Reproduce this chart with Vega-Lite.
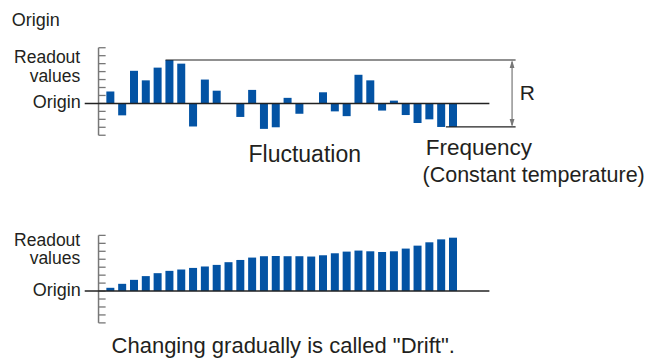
{
  "$schema": "https://vega.github.io/schema/vega-lite/v6.json",
  "width": 649,
  "height": 358,
  "autosize": {"type": "fit", "contains": "padding"},
  "padding": 0,
  "background": "white",
  "config": {"view": {"stroke": null}, "text": {"font": "Liberation Sans", "color": "#231f20"}},
  "datasets": {
    "fluct": [
      {"i": 1, "v": 1.5}, {"i": 2, "v": -1.5}, {"i": 3, "v": 4.1}, {"i": 4, "v": 2.9}, {"i": 5, "v": 4.5},
      {"i": 6, "v": 5.46}, {"i": 7, "v": 5.0}, {"i": 8, "v": -2.9}, {"i": 9, "v": 3.0}, {"i": 10, "v": 1.6},
      {"i": 11, "v": 0}, {"i": 12, "v": -1.7}, {"i": 13, "v": 1.7}, {"i": 14, "v": -3.2}, {"i": 15, "v": -3.0},
      {"i": 16, "v": 0.7}, {"i": 17, "v": -1.3}, {"i": 18, "v": 0}, {"i": 19, "v": 1.4}, {"i": 20, "v": -1.0},
      {"i": 21, "v": -1.6}, {"i": 22, "v": 3.6}, {"i": 23, "v": 2.9}, {"i": 24, "v": -0.9}, {"i": 25, "v": 0.35},
      {"i": 26, "v": -1.46}, {"i": 27, "v": -2.46}, {"i": 28, "v": -2.0}, {"i": 29, "v": -2.96}, {"i": 30, "v": -2.96}
    ],
    "drift": [
      {"i": 1, "v": 0.41}, {"i": 2, "v": 0.91}, {"i": 3, "v": 1.41}, {"i": 4, "v": 1.88}, {"i": 5, "v": 2.25},
      {"i": 6, "v": 2.54}, {"i": 7, "v": 2.71}, {"i": 8, "v": 2.91}, {"i": 9, "v": 3.09}, {"i": 10, "v": 3.29},
      {"i": 11, "v": 3.63}, {"i": 12, "v": 3.91}, {"i": 13, "v": 4.21}, {"i": 14, "v": 4.38}, {"i": 15, "v": 4.41},
      {"i": 16, "v": 4.38}, {"i": 17, "v": 4.38}, {"i": 18, "v": 4.34}, {"i": 19, "v": 4.5}, {"i": 20, "v": 4.75},
      {"i": 21, "v": 4.96}, {"i": 22, "v": 5.09}, {"i": 23, "v": 5.0}, {"i": 24, "v": 4.91}, {"i": 25, "v": 5.0},
      {"i": 26, "v": 5.34}, {"i": 27, "v": 5.71}, {"i": 28, "v": 6.13}, {"i": 29, "v": 6.5}, {"i": 30, "v": 6.71}
    ],
    "ticks": [
      {"t": -4}, {"t": -3}, {"t": -2}, {"t": -1}, {"t": 0}, {"t": 1},
      {"t": 2}, {"t": 3}, {"t": 4}, {"t": 5}, {"t": 6}, {"t": 7}
    ],
    "one": [{"k": 1}]
  },
  "resolve": {"scale": {"y": "independent"}},
  "layer": [
    {
      "layer": [
        {
          "data": {"name": "ticks"},
          "mark": {"type": "rule", "color": "#777777", "strokeWidth": 1.3},
          "encoding": {
            "x": {"datum": 0, "type": "quantitative", "scale": {"domain": [-7.9167, 46.1667], "nice": false, "zero": false}, "axis": null},
            "x2": {"datum": 0.6},
            "y": {"field": "t", "type": "quantitative", "scale": {"domain": [-31.75, 13], "nice": false, "zero": false}, "axis": null}
          }
        },
        {
          "data": {"name": "one"},
          "mark": {"type": "rule", "color": "#777777", "strokeWidth": 1.5},
          "encoding": {
            "x": {"datum": 0, "type": "quantitative", "scale": {"domain": [-7.9167, 46.1667], "nice": false, "zero": false}, "axis": null},
            "y": {"datum": 7, "type": "quantitative", "scale": {"domain": [-31.75, 13], "nice": false, "zero": false}, "axis": null},
            "y2": {"datum": -4}
          }
        },
        {
          "data": {"name": "fluct"},
          "mark": {"type": "bar", "orient": "vertical", "width": 8, "color": "#0353a4"},
          "encoding": {
            "x": {"field": "i", "type": "quantitative", "scale": {"domain": [-7.9167, 46.1667], "nice": false, "zero": false}, "axis": null},
            "y": {"field": "v", "type": "quantitative", "scale": {"domain": [-31.75, 13], "nice": false, "zero": false}, "axis": null},
            "y2": {"datum": 0}
          }
        },
        {
          "data": {"name": "one"},
          "mark": {"type": "rule", "color": "#222222", "strokeWidth": 1.5},
          "encoding": {
            "x": {"datum": -1.17, "type": "quantitative", "scale": {"domain": [-7.9167, 46.1667], "nice": false, "zero": false}, "axis": null},
            "x2": {"datum": 33.08},
            "y": {"datum": 0, "type": "quantitative", "scale": {"domain": [-31.75, 13], "nice": false, "zero": false}, "axis": null}
          }
        },
        {
          "data": {"name": "one"},
          "mark": {"type": "rule", "color": "#222222", "strokeWidth": 1.2},
          "encoding": {
            "x": {"datum": 5.67, "type": "quantitative", "scale": {"domain": [-7.9167, 46.1667], "nice": false, "zero": false}, "axis": null},
            "x2": {"datum": 35.3},
            "y": {"datum": 5.46, "type": "quantitative", "scale": {"domain": [-31.75, 13], "nice": false, "zero": false}, "axis": null}
          }
        },
        {
          "data": {"name": "one"},
          "mark": {"type": "rule", "color": "#222222", "strokeWidth": 1.2},
          "encoding": {
            "x": {"datum": 29.4, "type": "quantitative", "scale": {"domain": [-7.9167, 46.1667], "nice": false, "zero": false}, "axis": null},
            "x2": {"datum": 35.3},
            "y": {"datum": -2.96, "type": "quantitative", "scale": {"domain": [-31.75, 13], "nice": false, "zero": false}, "axis": null}
          }
        },
        {
          "data": {"name": "one"},
          "mark": {"type": "rule", "color": "#777777", "strokeWidth": 1.2},
          "encoding": {
            "x": {"datum": 35.0, "type": "quantitative", "scale": {"domain": [-7.9167, 46.1667], "nice": false, "zero": false}, "axis": null},
            "y": {"datum": 5.2, "type": "quantitative", "scale": {"domain": [-31.75, 13], "nice": false, "zero": false}, "axis": null},
            "y2": {"datum": -2.7}
          }
        },
        {
          "data": {"name": "one"},
          "mark": {"type": "point", "filled": true, "opacity": 1, "color": "#777777", "size": 64, "shape": "M0,-1L0.6,1L-0.6,1Z"},
          "encoding": {
            "x": {"datum": 35.0, "type": "quantitative", "scale": {"domain": [-7.9167, 46.1667], "nice": false, "zero": false}, "axis": null},
            "y": {"datum": 4.96, "type": "quantitative", "scale": {"domain": [-31.75, 13], "nice": false, "zero": false}, "axis": null}
          }
        },
        {
          "data": {"name": "one"},
          "mark": {"type": "point", "filled": true, "opacity": 1, "color": "#777777", "size": 64, "shape": "M0,1L0.6,-1L-0.6,-1Z"},
          "encoding": {
            "x": {"datum": 35.0, "type": "quantitative", "scale": {"domain": [-7.9167, 46.1667], "nice": false, "zero": false}, "axis": null},
            "y": {"datum": -2.46, "type": "quantitative", "scale": {"domain": [-31.75, 13], "nice": false, "zero": false}, "axis": null}
          }
        },
        {
          "data": {"name": "one"},
          "mark": {"type": "text", "text": "Origin", "fontSize": 18, "align": "left", "baseline": "alphabetic"},
          "encoding": {
            "x": {"datum": -7.35, "type": "quantitative", "scale": {"domain": [-7.9167, 46.1667], "nice": false, "zero": false}, "axis": null},
            "y": {"datum": 9.79, "type": "quantitative", "scale": {"domain": [-31.75, 13], "nice": false, "zero": false}, "axis": null}
          }
        },
        {
          "data": {"name": "one"},
          "mark": {"type": "text", "text": "Readout", "fontSize": 17.5, "align": "right", "baseline": "alphabetic"},
          "encoding": {
            "x": {"datum": -1.55, "type": "quantitative", "scale": {"domain": [-7.9167, 46.1667], "nice": false, "zero": false}, "axis": null},
            "y": {"datum": 5.08, "type": "quantitative", "scale": {"domain": [-31.75, 13], "nice": false, "zero": false}, "axis": null}
          }
        },
        {
          "data": {"name": "one"},
          "mark": {"type": "text", "text": "values", "fontSize": 17.5, "align": "right", "baseline": "alphabetic"},
          "encoding": {
            "x": {"datum": -1.55, "type": "quantitative", "scale": {"domain": [-7.9167, 46.1667], "nice": false, "zero": false}, "axis": null},
            "y": {"datum": 2.72, "type": "quantitative", "scale": {"domain": [-31.75, 13], "nice": false, "zero": false}, "axis": null}
          }
        },
        {
          "data": {"name": "one"},
          "mark": {"type": "text", "text": "Origin", "fontSize": 18, "align": "right", "baseline": "alphabetic"},
          "encoding": {
            "x": {"datum": -1.5, "type": "quantitative", "scale": {"domain": [-7.9167, 46.1667], "nice": false, "zero": false}, "axis": null},
            "y": {"datum": -0.56, "type": "quantitative", "scale": {"domain": [-31.75, 13], "nice": false, "zero": false}, "axis": null}
          }
        },
        {
          "data": {"name": "one"},
          "mark": {"type": "text", "text": "Fluctuation", "fontSize": 23, "align": "left", "baseline": "alphabetic"},
          "encoding": {
            "x": {"datum": 12.69, "type": "quantitative", "scale": {"domain": [-7.9167, 46.1667], "nice": false, "zero": false}, "axis": null},
            "y": {"datum": -7.34, "type": "quantitative", "scale": {"domain": [-31.75, 13], "nice": false, "zero": false}, "axis": null}
          }
        },
        {
          "data": {"name": "one"},
          "mark": {"type": "text", "text": "Frequency", "fontSize": 22.5, "align": "left", "baseline": "alphabetic"},
          "encoding": {
            "x": {"datum": 27.69, "type": "quantitative", "scale": {"domain": [-7.9167, 46.1667], "nice": false, "zero": false}, "axis": null},
            "y": {"datum": -6.5, "type": "quantitative", "scale": {"domain": [-31.75, 13], "nice": false, "zero": false}, "axis": null}
          }
        },
        {
          "data": {"name": "one"},
          "mark": {"type": "text", "text": "(Constant temperature)", "fontSize": 21.5, "align": "left", "baseline": "alphabetic"},
          "encoding": {
            "x": {"datum": 27.42, "type": "quantitative", "scale": {"domain": [-7.9167, 46.1667], "nice": false, "zero": false}, "axis": null},
            "y": {"datum": -9.84, "type": "quantitative", "scale": {"domain": [-31.75, 13], "nice": false, "zero": false}, "axis": null}
          }
        },
        {
          "data": {"name": "one"},
          "mark": {"type": "text", "text": "R", "fontSize": 21, "align": "left", "baseline": "alphabetic"},
          "encoding": {
            "x": {"datum": 35.64, "type": "quantitative", "scale": {"domain": [-7.9167, 46.1667], "nice": false, "zero": false}, "axis": null},
            "y": {"datum": 0.375, "type": "quantitative", "scale": {"domain": [-31.75, 13], "nice": false, "zero": false}, "axis": null}
          }
        }
      ]
    },
    {
      "layer": [
        {
          "data": {"name": "ticks"},
          "mark": {"type": "rule", "color": "#777777", "strokeWidth": 1.3},
          "encoding": {
            "x": {"datum": 0, "type": "quantitative", "scale": {"domain": [-7.9167, 46.1667], "nice": false, "zero": false}, "axis": null},
            "x2": {"datum": 0.6},
            "y": {"field": "t", "type": "quantitative", "scale": {"domain": [-8.1625, 36.5875], "nice": false, "zero": false}, "axis": null}
          }
        },
        {
          "data": {"name": "one"},
          "mark": {"type": "rule", "color": "#777777", "strokeWidth": 1.5},
          "encoding": {
            "x": {"datum": 0, "type": "quantitative", "scale": {"domain": [-7.9167, 46.1667], "nice": false, "zero": false}, "axis": null},
            "y": {"datum": 7, "type": "quantitative", "scale": {"domain": [-8.1625, 36.5875], "nice": false, "zero": false}, "axis": null},
            "y2": {"datum": -4}
          }
        },
        {
          "data": {"name": "drift"},
          "mark": {"type": "bar", "orient": "vertical", "width": 8, "color": "#0353a4"},
          "encoding": {
            "x": {"field": "i", "type": "quantitative", "scale": {"domain": [-7.9167, 46.1667], "nice": false, "zero": false}, "axis": null},
            "y": {"field": "v", "type": "quantitative", "scale": {"domain": [-8.1625, 36.5875], "nice": false, "zero": false}, "axis": null},
            "y2": {"datum": 0}
          }
        },
        {
          "data": {"name": "one"},
          "mark": {"type": "rule", "color": "#222222", "strokeWidth": 1.5},
          "encoding": {
            "x": {"datum": -1.17, "type": "quantitative", "scale": {"domain": [-7.9167, 46.1667], "nice": false, "zero": false}, "axis": null},
            "x2": {"datum": 33.08},
            "y": {"datum": 0, "type": "quantitative", "scale": {"domain": [-8.1625, 36.5875], "nice": false, "zero": false}, "axis": null}
          }
        },
        {
          "data": {"name": "one"},
          "mark": {"type": "text", "text": "Readout", "fontSize": 17.5, "align": "right", "baseline": "alphabetic"},
          "encoding": {
            "x": {"datum": -1.55, "type": "quantitative", "scale": {"domain": [-7.9167, 46.1667], "nice": false, "zero": false}, "axis": null},
            "y": {"datum": 5.72, "type": "quantitative", "scale": {"domain": [-8.1625, 36.5875], "nice": false, "zero": false}, "axis": null}
          }
        },
        {
          "data": {"name": "one"},
          "mark": {"type": "text", "text": "values", "fontSize": 17.5, "align": "right", "baseline": "alphabetic"},
          "encoding": {
            "x": {"datum": -1.55, "type": "quantitative", "scale": {"domain": [-7.9167, 46.1667], "nice": false, "zero": false}, "axis": null},
            "y": {"datum": 3.36, "type": "quantitative", "scale": {"domain": [-8.1625, 36.5875], "nice": false, "zero": false}, "axis": null}
          }
        },
        {
          "data": {"name": "one"},
          "mark": {"type": "text", "text": "Origin", "fontSize": 18, "align": "right", "baseline": "alphabetic"},
          "encoding": {
            "x": {"datum": -1.5, "type": "quantitative", "scale": {"domain": [-7.9167, 46.1667], "nice": false, "zero": false}, "axis": null},
            "y": {"datum": -0.65, "type": "quantitative", "scale": {"domain": [-8.1625, 36.5875], "nice": false, "zero": false}, "axis": null}
          }
        },
        {
          "data": {"name": "one"},
          "mark": {"type": "text", "text": "Changing gradually is called \"Drift\".", "fontSize": 22, "align": "left", "baseline": "alphabetic"},
          "encoding": {
            "x": {"datum": 1.1, "type": "quantitative", "scale": {"domain": [-7.9167, 46.1667], "nice": false, "zero": false}, "axis": null},
            "y": {"datum": -7.79, "type": "quantitative", "scale": {"domain": [-8.1625, 36.5875], "nice": false, "zero": false}, "axis": null}
          }
        }
      ]
    }
  ]
}
